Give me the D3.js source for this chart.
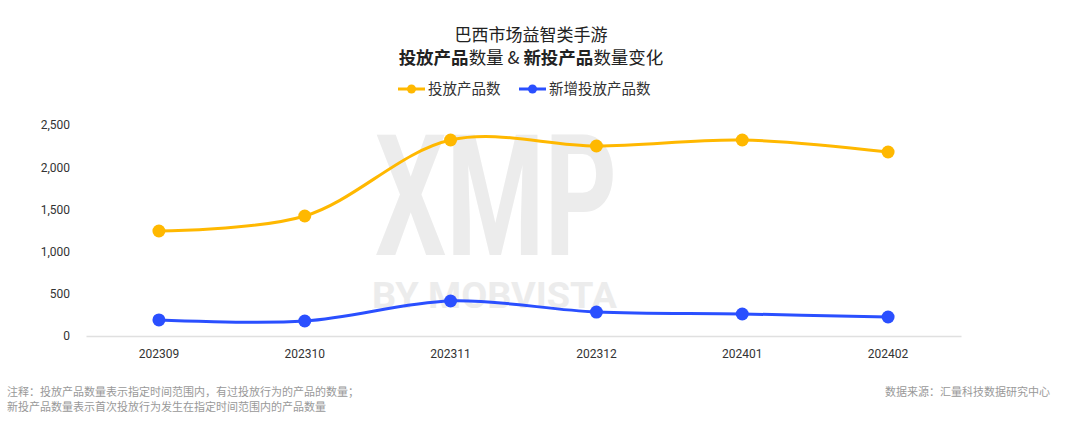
<!DOCTYPE html>
<html>
<head>
<meta charset="utf-8">
<script src="https://cdn.jsdelivr.net/npm/d3@7"></script>
<style>
  body { margin: 0; background: #fff; }
  text { font-family: "Noto Sans CJK SC", "Noto Sans", sans-serif; }
</style>
</head>
<body>
<div id="wrapper"></div>
<script>
// data
const months = ["202309", "202310", "202311", "202312", "202401", "202402"]
const launched = [1244, 1422, 2322, 2251, 2322, 2180]
const newLaunched = [190, 178, 415, 284, 261, 225]
const yTicks = [0, 500, 1000, 1500, 2000, 2500]

const seriesNames = ["投放产品数", "新增投放产品数"]
const colors = ["#ffb800", "#2a4fff"]

function drawChart() {
  // 1. dimensions
  const dimensions = {
    width: 1066,
    height: 425,
    margin: { top: 125, right: 105, bottom: 89, left: 86 },
  }
  dimensions.boundedWidth = dimensions.width - dimensions.margin.left - dimensions.margin.right
  dimensions.boundedHeight = dimensions.height - dimensions.margin.top - dimensions.margin.bottom

  // 2. canvas
  const wrapper = d3.select("#wrapper")
    .append("svg")
      .attr("width", dimensions.width)
      .attr("height", dimensions.height)

  // watermark (one text element, two lines)
  const wm = wrapper.append("text")
      .attr("fill", "#ececec")
      .style("font-family", "Roboto, sans-serif")
      .style("font-weight", 700)
  wm.append("tspan")
      .attr("x", 375).attr("y", 255)
      .attr("textLength", 242)
      .attr("lengthAdjust", "spacingAndGlyphs")
      .style("font-size", "168px")
      .text("XMP")
  wm.append("tspan")
      .attr("x", 372).attr("y", 308)
      .attr("textLength", 245)
      .attr("lengthAdjust", "spacingAndGlyphs")
      .style("font-size", "36px")
      .text("BY MOBVISTA")

  const bounds = wrapper.append("g")
      .attr("transform", `translate(${dimensions.margin.left},${dimensions.margin.top})`)

  // 3. scales
  const xScale = d3.scaleBand()
    .domain(months)
    .range([0, dimensions.boundedWidth])
  const yScale = d3.scaleLinear()
    .domain([0, 2500])
    .range([dimensions.boundedHeight, 0])

  const xPos = d => xScale(d) + xScale.bandwidth() / 2

  // 4. axes
  const yAxis = bounds.append("g")
    .call(d3.axisLeft(yScale).tickValues(yTicks).tickSize(0).tickPadding(16).tickFormat(d3.format(",")))
  yAxis.select(".domain").remove()
  yAxis.selectAll("text")
    .attr("fill", "#333")
    .style("font-size", "12px")
    .style("font-family", "Roboto, sans-serif")

  const xAxis = bounds.append("g")
    .attr("transform", `translate(0,${dimensions.boundedHeight})`)
    .call(d3.axisBottom(xScale).tickSize(0).tickPadding(13))
  xAxis.select(".domain").attr("stroke", "#e0e0e0").attr("stroke-width", 1.5)
  xAxis.selectAll("text")
    .attr("fill", "#333")
    .style("font-size", "12px")
    .style("font-family", "Roboto, sans-serif")

  // 5. lines
  const series = [launched, newLaunched]
  const line = d3.line()
    .curve(d3.curveCatmullRom.alpha(0.5))
    .x((d, i) => xPos(months[i]))
    .y(d => yScale(d))

  series.forEach((values, s) => {
    bounds.append("path")
      .datum(values)
      .attr("d", line)
      .attr("fill", "none")
      .attr("stroke", colors[s])
      .attr("stroke-width", 3)
      .attr("stroke-linejoin", "round")
    bounds.selectAll(null)
      .data(values)
      .join("circle")
        .attr("cx", (d, i) => xPos(months[i]))
        .attr("cy", d => yScale(d))
        .attr("r", 6.5)
        .attr("fill", colors[s])
  })

  // 6. title
  wrapper.append("text")
    .attr("x", 531).attr("y", 41)
    .attr("text-anchor", "middle")
    .attr("fill", "#222")
    .style("font-size", "17px")
    .text("巴西市场益智类手游")
  const t2 = wrapper.append("text")
    .attr("x", 531).attr("y", 64)
    .attr("text-anchor", "middle")
    .attr("fill", "#222")
    .style("font-size", "17.5px")
  const parts = [["投放产品", 700], ["数量 & ", 400], ["新投产品", 700], ["数量变化", 400]]
  parts.forEach(([t, w]) => t2.append("tspan").style("font-weight", w).text(t))

  // legend
  const legendX = [398, 519]
  seriesNames.forEach((name, s) => {
    const g = wrapper.append("g").attr("transform", `translate(${legendX[s]},89)`)
    g.append("line").attr("x1", 0).attr("x2", 27).attr("stroke", colors[s]).attr("stroke-width", 3)
    g.append("circle").attr("cx", 13.5).attr("r", 4.5).attr("fill", colors[s])
    g.append("text")
      .attr("x", 30).attr("dy", "0.35em")
      .attr("fill", "#333")
      .style("font-size", "14.5px")
      .text(name)
  })

  // footnotes
  const notes = ["注释：投放产品数量表示指定时间范围内，有过投放行为的产品的数量；",
                 "新投产品数量表示首次投放行为发生在指定时间范围内的产品数量"]
  notes.forEach((n, i) => {
    wrapper.append("text")
      .attr("x", 7).attr("y", 396 + i * 15)
      .attr("fill", "#999")
      .style("font-size", "11px")
      .text(n)
  })
  wrapper.append("text")
    .attr("x", 1050).attr("y", 396)
    .attr("text-anchor", "end")
    .attr("fill", "#999")
    .style("font-size", "11px")
    .text("数据来源：汇量科技数据研究中心")
}

drawChart()
</script>
</body>
</html>
